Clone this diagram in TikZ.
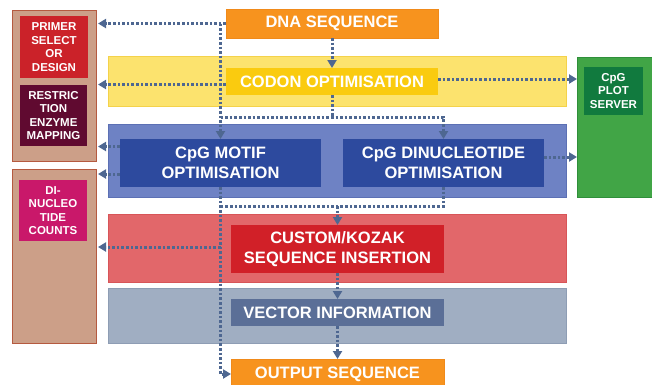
\documentclass[tikz,border=0pt]{standalone}
\usepackage{fontspec}
\setmainfont{Liberation Sans}
\usetikzlibrary{arrows.meta,calc}
\definecolor{brownfill}{HTML}{CC9F88}
\definecolor{brownline}{HTML}{B55A40}
\definecolor{primerc}{HTML}{CB2229}
\definecolor{restrc}{HTML}{600A30}
\definecolor{dinucc}{HTML}{C9186A}
\definecolor{yellowband}{HTML}{FCE36E}
\definecolor{yellowline}{HTML}{F4D24A}
\definecolor{codonc}{HTML}{FACB0F}
\definecolor{orangec}{HTML}{F7931E}
\definecolor{orangeline}{HTML}{F08A1A}
\definecolor{blueband}{HTML}{6E82C4}
\definecolor{blueline}{HTML}{5C70B4}
\definecolor{cpgc}{HTML}{2D4A9E}
\definecolor{greenc}{HTML}{41A546}
\definecolor{greenline}{HTML}{2F8F3A}
\definecolor{darkgreenc}{HTML}{117A3E}
\definecolor{redband}{HTML}{E2676A}
\definecolor{redline}{HTML}{D85558}
\definecolor{customc}{HTML}{D12028}
\definecolor{grayband}{HTML}{A0AEC2}
\definecolor{grayline}{HTML}{8E9DB4}
\definecolor{vectorc}{HTML}{5B6F97}
\definecolor{arrowc}{HTML}{4E6791}
\tikzset{
  rbox/.style={rectangle, inner sep=0pt, outer sep=0pt, anchor=north west, line width=0.6pt},
  bigtext/.style={text=white, font=\fontsize{16.5}{20}\selectfont\bfseries, align=center},
  smalltext/.style={text=white, font=\fontsize{11.5}{13.6}\selectfont\bfseries, align=center},
  dotline/.style={draw=arrowc, line width=3pt, dash pattern=on 2.6pt off 2pt},
  dotarrow/.style={dotline, -{Triangle[width=9pt,length=8pt]}},
}
\begin{document}
\begin{tikzpicture}[x=1pt,y=-1pt]
\useasboundingbox (0,0) rectangle (652,384);
% left panels
\node[rbox, fill=brownfill, draw=brownline, minimum width=84pt, minimum height=151pt] (brownA) at (12,10) {};
\node[rbox, fill=brownfill, draw=brownline, minimum width=84pt, minimum height=174pt] (brownB) at (12,169) {};
\node[rbox, smalltext, fill=primerc, minimum width=68pt, minimum height=62pt] (primer) at (20,16) {PRIMER\\SELECT\\OR\\DESIGN};
\node[rbox, smalltext, fill=restrc, minimum width=67pt, minimum height=61pt] (restr) at (20,85) {RESTRIC\\TION\\ENZYME\\MAPPING};
\node[rbox, smalltext, fill=dinucc, minimum width=68pt, minimum height=61pt] (dinuc) at (19,180) {DI-\\NUCLEO\\TIDE\\COUNTS};
% bands
\node[rbox, fill=yellowband, draw=yellowline, minimum width=458pt, minimum height=50pt] (yband) at (108,56) {};
\node[rbox, fill=blueband, draw=blueline, minimum width=458pt, minimum height=73pt] (bband) at (108,124) {};
\node[rbox, fill=redband, draw=redline, minimum width=458pt, minimum height=68pt] (rband) at (108,214) {};
\node[rbox, fill=grayband, draw=grayline, minimum width=458pt, minimum height=55pt] (gband) at (108,288) {};
\node[rbox, fill=greenc, draw=greenline, minimum width=80pt, minimum height=140pt] (green) at (577,57) {};
% boxes
\node[rbox, bigtext, fill=orangec, draw=orangeline, minimum width=212pt, minimum height=29pt] (dna) at (226,9) {DNA SEQUENCE};
\node[rbox, bigtext, fill=codonc, minimum width=212pt, minimum height=27pt] (codon) at (226,68) {CODON OPTIMISATION};
\node[rbox, bigtext, fill=cpgc, minimum width=201pt, minimum height=48pt] (motif) at (120,139) {CpG MOTIF\\OPTIMISATION};
\node[rbox, bigtext, fill=cpgc, minimum width=201pt, minimum height=48pt] (dinopt) at (343,139) {CpG DINUCLEOTIDE\\OPTIMISATION};
\node[rbox, smalltext, fill=darkgreenc, minimum width=59pt, minimum height=48pt] (plot) at (584,67) {CpG\\PLOT\\SERVER};
\node[rbox, bigtext, fill=customc, minimum width=213pt, minimum height=48pt] (custom) at (231,225) {CUSTOM/KOZAK\\SEQUENCE INSERTION};
\node[rbox, bigtext, fill=vectorc, minimum width=213pt, minimum height=27pt] (vector) at (231,299) {VECTOR INFORMATION};
\node[rbox, bigtext, fill=orangec, draw=orangeline, minimum width=213pt, minimum height=30pt] (output) at (231,359) {OUTPUT SEQUENCE};
% helper coordinates
\coordinate (h1) at (0,117);
\coordinate (h2) at (0,206);
% connectors
\draw[dotarrow] (dna.south) -- (codon.north);
\draw[dotarrow, shorten >=2pt] (dna.west) -- (dna.west -| brownA.east);
\draw[dotarrow] (dna.west -| motif.north) -- (motif.north);
\draw[dotarrow, shorten >=2pt] ([yshift=-3pt]codon.west) -- ([yshift=-3pt]codon.west -| brownA.east);
\draw[dotarrow] ([yshift=2.5pt]codon.east) -- ([yshift=2.5pt]codon.east -| green.west);
\draw[dotline] (codon.south) -- (codon.south |- h1);
\draw[dotarrow] (motif.north |- h1) -- (dinopt.north |- h1) -- (dinopt.north);
\draw[dotarrow, shorten >=2pt] ([yshift=16.5pt]motif.west) -- ([yshift=16.5pt]motif.west -| brownA.east);
\draw[dotarrow, shorten >=2pt] ([yshift=-11pt]motif.west) -- ([yshift=-11pt]motif.west -| brownB.east);
\draw[dotarrow] ([yshift=6pt]dinopt.east) -- ([yshift=6pt]dinopt.east -| green.west);
\draw[dotarrow] (motif.south) -- (motif.south |- output.west) -- (output.west);
\draw[dotline] (dinopt.south) -- (dinopt.south |- h2) -- (motif.south |- h2);
\draw[dotarrow] (custom.north |- h2) -- (custom.north);
\draw[dotarrow, shorten >=2pt] ([yshift=2pt]motif.south |- custom.west) -- ([yshift=2pt]custom.west -| brownB.east);
\draw[dotarrow] (custom.south) -- (vector.north);
\draw[dotarrow] (vector.south) -- (output.north);
\end{tikzpicture}
\end{document}
